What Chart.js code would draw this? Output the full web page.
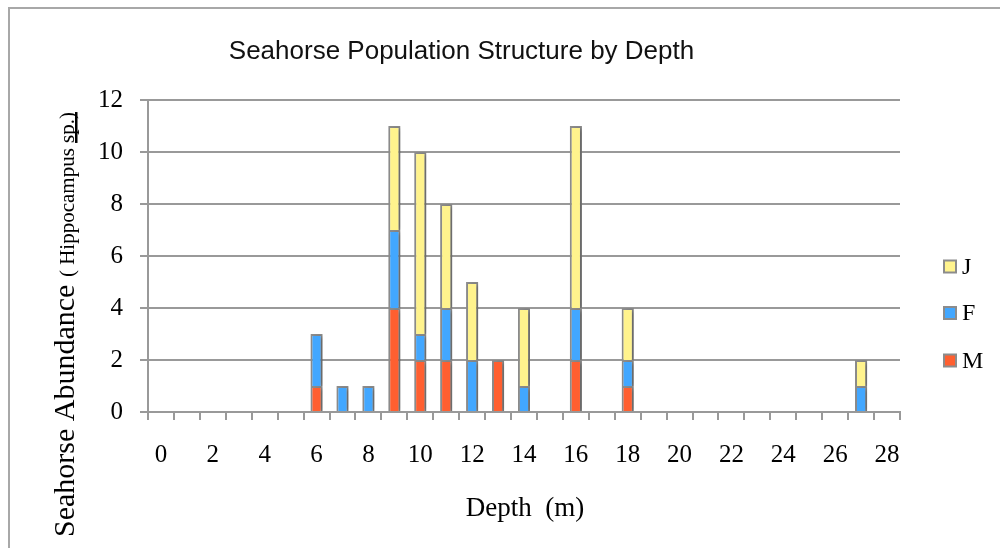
<!DOCTYPE html>
<html><head><meta charset="utf-8">
<script src="https://cdn.jsdelivr.net/npm/chart.js@4/dist/chart.umd.min.js"></script>
<style>
html,body{margin:0;padding:0;background:#fff;overflow:hidden;}
#wrap{position:relative;width:1000px;height:548px;}
#frame{position:absolute;left:8px;top:7px;width:1000px;height:600px;border-left:2px solid #a8a8a8;border-top:2px solid #a8a8a8;}
#c{position:absolute;left:0;top:0;}
</style></head><body>
<div id="wrap"><div id="frame"></div><canvas id="c" width="1000" height="548"></canvas></div>
<script>
const depths = ['0','1','2','3','4','5','6','7','8','9','10','11','12','13','14','15','16','17','18','19','20','21','22','23','24','25','26','27','28'];
const M = [null,null,null,null,null,null,1,null,null,4,2,2,null,2,null,null,2,null,1,null,null,null,null,null,null,null,null,null,null];
const F = [null,null,null,null,null,null,2,1,1,3,1,2,2,null,1,null,2,null,1,null,null,null,null,null,null,null,null,1,null];
const J = [null,null,null,null,null,null,null,null,null,4,7,4,3,null,3,null,7,null,2,null,null,null,null,null,null,null,null,1,null];
const seriesNames = ['M','F','J'];
const seriesColors = ['#FF5F30','#42A7FF','#FFF38D'];
const yTicks = [0,2,4,6,8,10,12];
const titleText = 'Seahorse Population Structure by Depth';
const xTitle = 'Depth  (m)';
const yTitleMain = 'Seahorse Abundance ';
const yTitleSub = '( Hippocampus sp.)';

const SERIF = '"Liberation Serif", "DejaVu Serif", serif';
const SANS = '"Liberation Sans", Arial, sans-serif';

const mkDs = (name, data, color) => ({
  label: name, data: data, backgroundColor: color,
  borderColor: '#8c8c8c', borderWidth: 2, borderSkipped: 'bottom',
  barPercentage: 0.47, categoryPercentage: 1.0
});

const shadowPlugin = {
  id: 'shadow',
  beforeDatasetsDraw(chart){ const c = chart.ctx; c.save(); c.shadowColor='rgba(0,0,0,0.28)'; c.shadowBlur=4; c.shadowOffsetX=3; c.shadowOffsetY=1; },
  afterDatasetsDraw(chart){ chart.ctx.restore(); }
};

const textPlugin = {
  id: 'texts',
  afterDraw(chart){
    const c = chart.ctx;
    c.save();
    c.fillStyle = '#111';
    c.font = '26px ' + SANS;
    c.textAlign = 'center'; c.textBaseline = 'alphabetic';
    c.fillText(titleText, 461.5, 59);
    c.font = '27px ' + SERIF;
    c.fillStyle = '#000';
    c.fillText(xTitle, 525, 516);
    c.save();
    c.translate(74, 537);
    c.rotate(-Math.PI/2);
    c.textAlign = 'left';
    c.font = '30px ' + SERIF;
    c.fillText(yTitleMain, 0, 0);
    const w1 = c.measureText(yTitleMain).width;
    c.font = '21px ' + SERIF;
    c.fillText(yTitleSub, w1, 0);
    const pre = c.measureText('( Hippocampus ').width;
    const full = c.measureText(yTitleSub).width;
    c.fillRect(w1 + pre, 1, full - pre, 2.5);
    c.restore();
    const ys = [266.5, 313, 360.5];
    const order = [2,1,0];
    c.font = '24px ' + SERIF;
    c.textAlign = 'left'; c.textBaseline = 'middle';
    order.forEach((si, k) => {
      const y = ys[k];
      c.fillStyle = seriesColors[si];
      c.fillRect(944, y-6, 12, 12);
      c.strokeStyle = '#8c8c8c'; c.lineWidth = 2;
      c.strokeRect(944, y-6, 12, 12);
      c.fillStyle = '#000';
      c.fillText(seriesNames[si], 962, y+1);
    });
    c.restore();
  }
};

new Chart(document.getElementById('c'), {
  type: 'bar',
  data: { labels: depths, datasets: [mkDs('M', M, seriesColors[0]), mkDs('F', F, seriesColors[1]), mkDs('J', J, seriesColors[2])] },
  options: {
    responsive: false, animation: false, devicePixelRatio: 1,
    layout: { padding: { top: 100, right: 100, bottom: 0, left: 0 } },
    plugins: { legend: { display: false }, title: { display: false }, tooltip: { enabled: false } },
    scales: {
      x: {
        stacked: true,
        afterFit(s){ s.height = 136; },
        grid: { offset: true, drawOnChartArea: false, drawTicks: true, tickLength: 8, color: '#999', lineWidth: 2 },
        border: { display: true, color: '#999', width: 2 },
        ticks: { autoSkip: false, maxRotation: 0, minRotation: 0, padding: 20, color: '#000',
          font: { family: SERIF, size: 25 },
          callback: (v, i) => (i % 2 === 0 ? depths[i] : '') }
      },
      y: {
        stacked: true, min: 0, max: 12,
        afterFit(s){ s.width = 148; },
        afterBuildTicks(s){ s.ticks = yTicks.map(v => ({ value: v })); },
        grid: { drawTicks: true, tickLength: 8, color: '#999', lineWidth: 2 },
        border: { display: true, color: '#999', width: 2 },
        ticks: { padding: 17, color: '#000', font: { family: SERIF, size: 25 } }
      }
    }
  },
  plugins: [shadowPlugin, textPlugin]
});
</script>
</body></html>
